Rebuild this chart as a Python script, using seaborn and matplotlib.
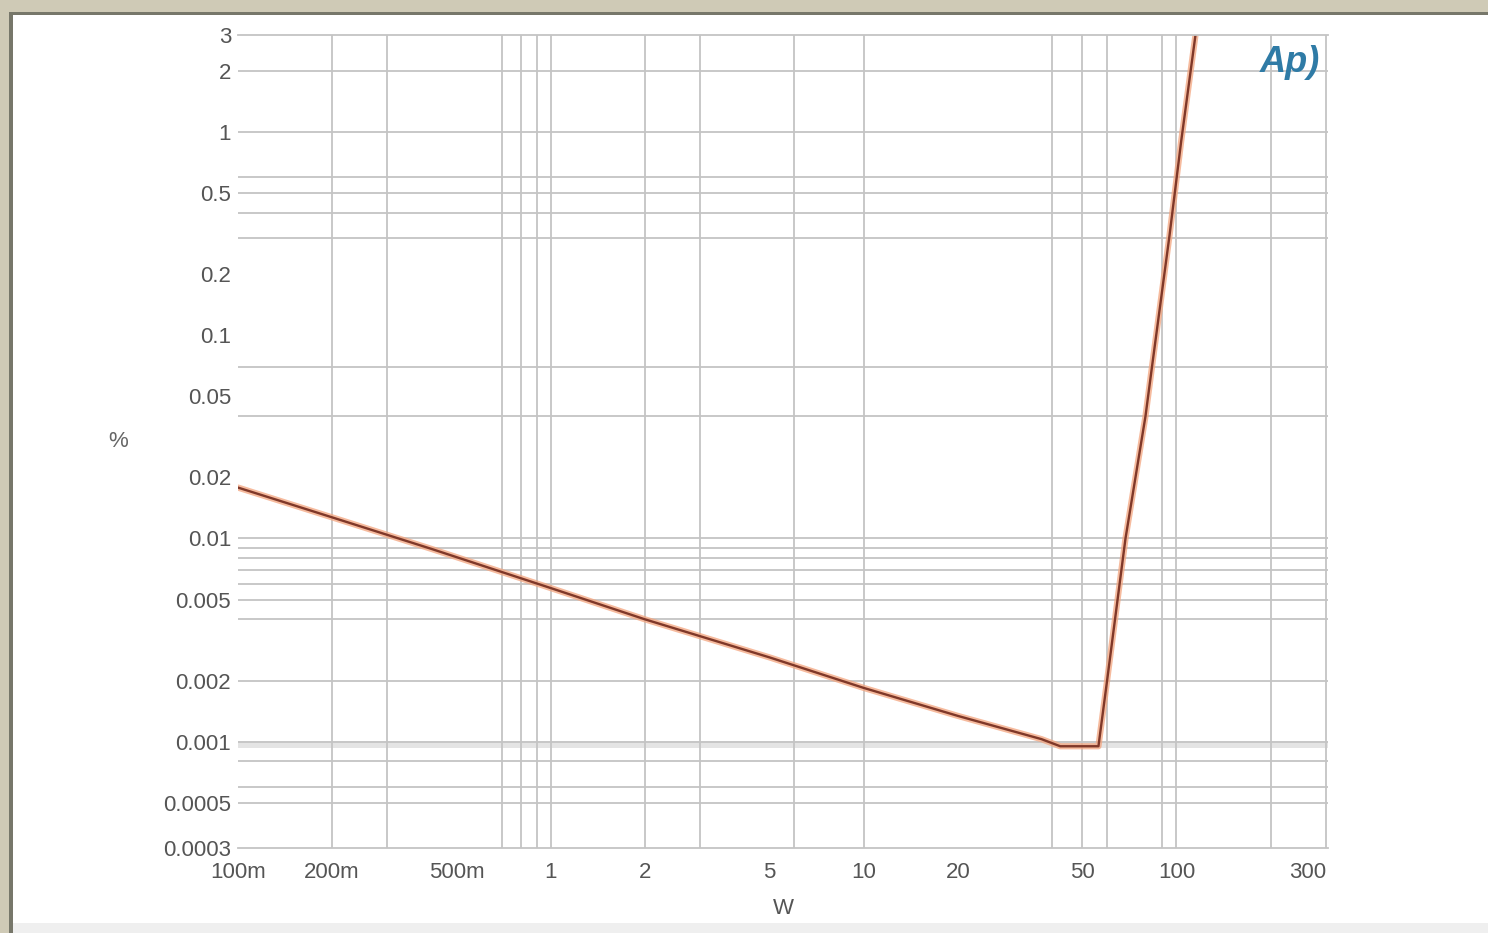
import numpy as np
import pandas as pd
import matplotlib
matplotlib.use("Agg")
import matplotlib.pyplot as plt
import seaborn as sns
from matplotlib.patches import Rectangle
from matplotlib.ticker import FixedLocator, FixedFormatter, NullFormatter

# ---- data ----
power_w = [0.1, 0.2, 0.414, 1, 2, 5, 10, 20, 37, 42.5, 56.3, 60, 68.7, 79.6, 83.5, 95, 103.5, 115]
thd_pct = [0.0178, 0.0127, 0.0089, 0.0057, 0.0040, 0.0026, 0.00184, 0.00134, 0.00103,
           0.00095, 0.00095, 0.002, 0.01, 0.04, 0.07, 0.31, 0.9, 3.0]

x_tick_values = [0.1, 0.2, 0.5, 1, 2, 5, 10, 20, 50, 100, 300]
x_tick_labels = ["100m", "200m", "500m", "1", "2", "5", "10", "20", "50", "100", "300"]
y_tick_values = [3, 2, 1, 0.5, 0.2, 0.1, 0.05, 0.02, 0.01, 0.005, 0.002, 0.001, 0.0005, 0.0003]
y_tick_labels = ["3", "2", "1", "0.5", "0.2", "0.1", "0.05", "0.02", "0.01", "0.005",
                 "0.002", "0.001", "0.0005", "0.0003"]
x_grid_values = [0.2, 0.3, 0.7, 0.8, 0.9, 1, 2, 3, 6, 10, 40, 50, 60, 90, 100, 200, 300]
y_grid_values = [2, 1, 0.6, 0.5, 0.4, 0.3, 0.07, 0.04, 0.01, 0.009, 0.008, 0.007, 0.006,
                 0.005, 0.004, 0.002, 0.001, 0.0008, 0.0006, 0.0005]

df = pd.DataFrame({"W": power_w, "pct": thd_pct})

sns.set_style("white")
plt.rcParams['font.family'] = ['Liberation Sans', 'DejaVu Sans']

W, H = 1488, 933
fig = plt.figure(figsize=(W / 100, H / 100), dpi=100)
fig.patch.set_facecolor('#cfcab6')

# window frame (drawn beneath the axes)
frame = [
    ((13 / W, 0), 1 - 13 / W, (H - 15) / H, 'white'),
    ((9 / W, 0), 4 / W, (H - 12) / H, '#77776a'),
    ((9 / W, (H - 15) / H), 1 - 9 / W, 3 / H, '#77776a'),
    ((13 / W, 0), 1 - 13 / W, 10 / H, '#efefef'),
]
for i, (xy, w, h, c) in enumerate(frame):
    fig.patches.append(Rectangle(xy, w, h, transform=fig.transFigure, facecolor=c,
                                 edgecolor='none', zorder=-10 + i))

ax = fig.add_axes([238 / W, (H - 848) / H, (1328 - 238) / W, (848 - 35) / H])
ax.set_zorder(1)
ax.set_facecolor('white')

ax.set_xscale('log')
ax.set_yscale('log')

# grid
ax.xaxis.set_major_locator(FixedLocator(x_tick_values))
ax.xaxis.set_major_formatter(FixedFormatter(x_tick_labels))
ax.xaxis.set_minor_locator(FixedLocator(x_grid_values))
ax.xaxis.set_minor_formatter(NullFormatter())
ax.yaxis.set_major_locator(FixedLocator(y_tick_values))
ax.yaxis.set_major_formatter(FixedFormatter(y_tick_labels))
ax.yaxis.set_minor_locator(FixedLocator(y_grid_values))
ax.yaxis.set_minor_formatter(NullFormatter())
ax.xaxis.remove_overlapping_locs = False
ax.yaxis.remove_overlapping_locs = False
ax.grid(which='major', visible=False)
ax.grid(which='minor', color='#c4c4c4', linewidth=1.3)
ax.axhline(0.00097, color='#e4e4e4', linewidth=5, zorder=0.5)

sns.lineplot(data=df, x="W", y="pct", ax=ax, color='#f3a47e', linewidth=4.5, alpha=0.75,
             estimator=None, sort=False)
sns.lineplot(data=df, x="W", y="pct", ax=ax, color='#7f3829', linewidth=1.7,
             estimator=None, sort=False)

ax.set_xlim(0.1, 305)
ax.set_ylim(0.0003, 3)

ax.tick_params(which='both', length=0)
ax.tick_params(axis='x', which='major', pad=10, labelsize=16, labelcolor='#555555')
ax.tick_params(axis='y', which='major', pad=5, labelsize=16, labelcolor='#555555')
xlabels = ax.get_xticklabels()
xlabels[-1].set_ha('right')

for s in ['left', 'right']:
    ax.spines[s].set_visible(False)
for s in ['top', 'bottom']:
    ax.spines[s].set_color('#c4c4c4')
    ax.spines[s].set_linewidth(1.3)

ax.set_xlabel("W", fontsize=16, color='#555555')
ax.set_ylabel("%", fontsize=16, color='#666666', rotation=0)
ax.xaxis.set_label_coords(0.5, -(908 - 848) / (848 - 35))
ax.xaxis.label.set_va('center')
ax.yaxis.set_label_coords((118 - 238) / (1328 - 238), 0.5)
ax.yaxis.label.set_va('center')
ax.yaxis.label.set_ha('center')

fig.text(1290 / W, 1 - 62 / H, "Ap)", fontsize=26, color='#2f7ba6', style='italic',
         weight='bold', ha='center', va='center', zorder=5)

fig.savefig("out.png", dpi=100, facecolor=fig.get_facecolor())
